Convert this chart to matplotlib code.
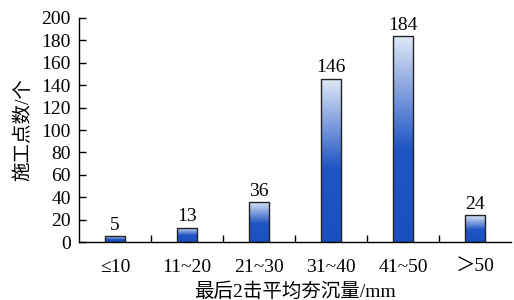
import matplotlib.pyplot as plt
import numpy as np
from matplotlib.colors import LinearSegmentedColormap

plt.rcParams['font.family'] = ['Liberation Serif', 'Noto Sans CJK SC']

categories = ['≤10', '11~20', '21~30', '31~40', '41~50', '＞50']
counts = [5, 13, 36, 146, 184, 24]

fig = plt.figure(figsize=(5.14, 3.0), dpi=100)
ax = fig.add_axes([0.1537, 0.193, 0.8405, 0.747])

x = np.arange(len(categories))
bars = ax.bar(x, counts, width=0.29, facecolor='none', edgecolor='#222222', linewidth=1.0, zorder=3)

# vertical gradient: light at top, deep blue below middle
cmap = LinearSegmentedColormap.from_list('bg', [(0.0, '#1a4fc2'), (0.45, '#1f55c4'), (1.0, '#e2e9f6')])
grad = np.linspace(0, 1, 256).reshape(-1, 1)
for b in bars:
    x0, y0 = b.get_x(), b.get_y()
    w, h = b.get_width(), b.get_height()
    im = ax.imshow(grad, cmap=cmap, aspect='auto', origin='lower',
                   extent=[x0, x0 + w, y0, y0 + h], zorder=2)
    im.set_clip_path(b)

for xi, v in zip(x, counts):
    ax.text(xi, v + 2, str(v), ha='center', va='bottom', fontsize=14)

ax.set_xlim(-0.5, len(categories) - 0.5)
ax.set_ylim(0, 200)
ax.set_yticks(np.arange(0, 201, 20))
ax.set_xticks(x)
ax.set_xticklabels(categories)
ax.set_xticks(np.arange(0.5, len(categories) - 0.5, 1), minor=True)
ax.tick_params(axis='x', which='major', length=0, labelsize=14, pad=12)
ax.tick_params(axis='x', which='minor', direction='in', length=5, width=1)
ax.tick_params(axis='y', direction='in', length=5, width=1, labelsize=14, pad=6)

for s in ['top', 'right']:
    ax.spines[s].set_visible(False)
ax.spines['left'].set_linewidth(1.0)
ax.spines['bottom'].set_linewidth(1.0)

ax.set_ylabel('施工点数/个', fontsize=14, labelpad=6)
ax.set_xlabel('最后2击平均夯沉量/mm', fontsize=14, labelpad=5)

plt.savefig('out.png', dpi=100)
